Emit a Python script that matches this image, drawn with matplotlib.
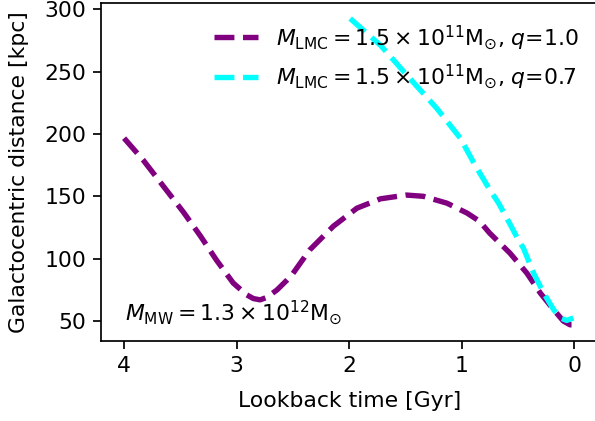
import numpy as np
import matplotlib
matplotlib.use('Agg')
import matplotlib.pyplot as plt

# lookback time [Gyr] and galactocentric distance [kpc]
t_q10 = [4.0, 3.83, 3.65, 3.47, 3.32, 3.18, 3.03, 2.91, 2.85, 2.79, 2.73,
         2.64, 2.55, 2.50, 2.35, 2.14, 1.93, 1.72, 1.49, 1.34, 1.13, 0.95,
         0.84, 0.75, 0.57, 0.42, 0.30, 0.18, 0.095, 0.036, 0.0]
d_q10 = [196.6, 179, 158, 137, 118, 99, 80.5, 71, 68, 67, 69,
         75, 83, 88, 107, 126, 140.5, 148, 151, 150, 144.5, 136.5,
         130, 120.5, 104.5, 88.5, 72.5, 59, 50, 47, 47]

t_q07 = [1.99, 1.72, 1.46, 1.22, 1.01, 0.88, 0.81, 0.747, 0.67, 0.613,
         0.55, 0.495, 0.45, 0.36, 0.27, 0.18, 0.12, 0.065, 0.006]
d_q07 = [292.5, 271, 244.5, 220.5, 196.5, 175, 164.5, 155, 144.5, 135,
         124.5, 115, 108.5, 88.5, 72.5, 59, 52.5, 50.5, 52.5]

lab_q10 = r'$M_{\rm LMC}=1.5\times10^{11}{\rm M}_{\odot}$, $q$=1.0'
lab_q07 = r'$M_{\rm LMC}=1.5\times10^{11}{\rm M}_{\odot}$, $q$=0.7'
lab_mw = r'$M_{\rm MW}=1.3\times10^{12}{\rm M}_{\odot}$'

plt.rcParams['font.size'] = 10.2

DPI = 155
fig = plt.figure(figsize=(595 / DPI, 421 / DPI), dpi=DPI)
ax = fig.add_axes([0.170, 0.190, 0.835, 0.803])

ax.plot(t_q10, d_q10, color='purple', ls='--', lw=2.5, label=lab_q10)
ax.plot(t_q07, d_q07, color='cyan', ls='--', lw=2.5, label=lab_q07)

ax.text(0.048, 0.04, lab_mw, transform=ax.transAxes, va='bottom')

ax.set_xlim(4.204, -0.213)
ax.set_ylim(34, 305)
ax.set_xticks([4, 3, 2, 1, 0])
ax.set_yticks([50, 100, 150, 200, 250, 300])
ax.set_xlabel('Lookback time [Gyr]', labelpad=7)
ax.set_ylabel('Galactocentric distance [kpc]', labelpad=7)
ax.legend(loc='upper right', frameon=False)

fig.savefig('out.png', dpi=DPI)
